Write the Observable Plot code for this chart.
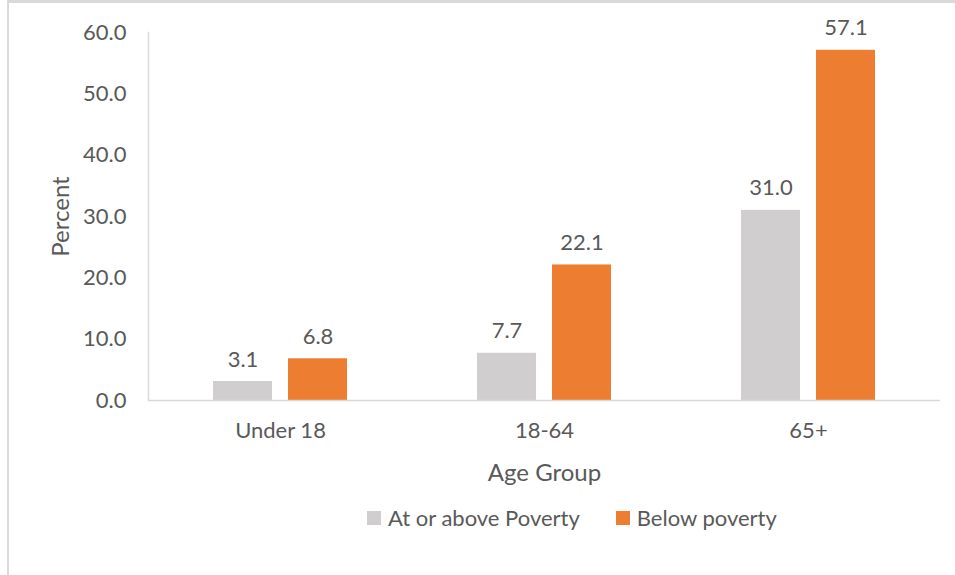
<!DOCTYPE html>
<html>
<head>
<meta charset="utf-8">
<script src="https://cdn.jsdelivr.net/npm/d3@7"></script>
<script src="https://cdn.jsdelivr.net/npm/@observablehq/plot@0.6"></script>
<style>
  html, body { margin: 0; padding: 0; background: #fff; }
  #wrap { position: relative; width: 955px; height: 575px; overflow: hidden; font-family: Lato, "Open Sans", sans-serif; }
  #border { position: absolute; left: 7px; top: 0px; width: 960px; height: 580px; border-top: 3px solid #d9d9d9; border-left: 2px solid #d9d9d9; box-sizing: border-box; }
  #chart { position: absolute; left: 0; top: 0; }
  #legend { position: absolute; left: 367px; top: 504px; display: flex; gap: 36px; font-size: 22px; color: #595959; }
  .item { display: flex; align-items: center; }
  .sw { width: 14px; height: 14px; margin-right: 7px; }
</style>
</head>
<body>
<div id="wrap">
  <div id="border"></div>
  <div id="chart"></div>
  <div id="legend"></div>
</div>
<script>
const groups = ["Under 18", "18-64", "65+"];
const series = ["At or above Poverty", "Below poverty"];
const aboveValues = [3.1, 7.7, 31.0];
const belowValues = [6.8, 22.1, 57.1];
const yTicks = [0, 10, 20, 30, 40, 50, 60];
const colors = ["#D0CECE", "#ED7D31"];

const table = [];
groups.forEach((g, i) => {
  table.push({group: g, series: series[0], value: aboveValues[i]});
  table.push({group: g, series: series[1], value: belowValues[i]});
});

const font = "Lato, 'Open Sans', sans-serif";
const chart = Plot.plot({
  width: 955,
  height: 490,
  marginLeft: 148,
  marginRight: 15,
  marginTop: 32,
  marginBottom: 90,
  style: {fontFamily: font, fontSize: "22px", color: "#595959", background: "transparent"},
  fx: {domain: groups, paddingInner: 0, paddingOuter: 0},
  x: {domain: series, paddingInner: 0.213, paddingOuter: 0.8665, axis: null},
  y: {domain: [0, 60]},
  color: {domain: series, range: colors},
  marks: [
    Plot.barY(table, {fx: "group", x: "series", y: "value", fill: "series"}),
    Plot.text(table, {fx: "group", x: "series", y: "value", text: d => d.value.toFixed(1), dy: -22, fill: "#595959", fontSize: 22}),
    Plot.ruleY([0], {stroke: "#D9D9D9", strokeWidth: 1.5}),
    Plot.frame({anchor: "left", stroke: "#D9D9D9", strokeWidth: 1.5, facet: "super"}),
    Plot.axisY({ticks: yTicks, tickSize: 0, tickPadding: 22, tickFormat: d => d.toFixed(1), label: null, fill: "#595959", fontSize: 22}),
    Plot.axisY({ticks: [], tickSize: 0, label: "Percent", labelAnchor: "center", labelOffset: 97, labelArrow: "none", fill: "#595959", fontSize: 24}),
    Plot.axisFx({anchor: "bottom", tickSize: 0, tickPadding: 22, label: null, fill: "#595959", fontSize: 22}),
    Plot.axisFx({anchor: "bottom", ticks: [], tickSize: 0, label: "Age Group", labelAnchor: "center", labelOffset: 80, labelArrow: "none", fill: "#595959", fontSize: 24})
  ]
});
document.getElementById("chart").appendChild(chart);

const legend = document.getElementById("legend");
series.forEach((s, i) => {
  const item = document.createElement("div");
  item.className = "item";
  const sw = document.createElement("div");
  sw.className = "sw";
  sw.style.background = colors[i];
  const t = document.createElement("span");
  t.textContent = s;
  item.appendChild(sw);
  item.appendChild(t);
  legend.appendChild(item);
});
</script>
</body>
</html>
